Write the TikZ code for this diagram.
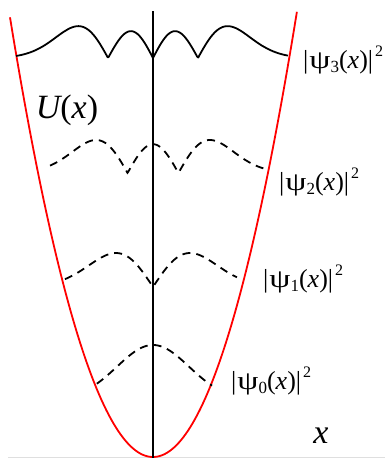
\documentclass[tikz,border=0pt]{standalone}
\usepackage{fontspec}
\setmainfont{Liberation Serif}
\begin{document}
\begin{tikzpicture}[x=1pt,y=-1pt,
  axisline/.style={line width=1.8pt,black},
  potential/.style={line width=1.8pt,red},
  wavesolid/.style={line width=1.8pt,black,line join=round},
  wavedash/.style={line width=1.8pt,black,dash pattern=on 8pt off 6pt},
  lab/.style={inner sep=0pt,anchor=west,font=\fontsize{26}{26}\selectfont},
  biglab/.style={inner sep=0pt,font=\fontsize{34}{34}\selectfont\itshape}]
\useasboundingbox (0,0) rectangle (385,458);
\newcommand{\wlabel}[1]{|\kern1pt\scalebox{1.3}[1]{ψ}\raisebox{-0.3ex}{\fontsize{17}{17}\selectfont #1}(\textit{x})|\kern2pt\raisebox{1.05ex}{\fontsize{16}{16}\selectfont 2}}
% faint base line
\coordinate (bl) at (8,457);
\coordinate (br) at (385,457);
\draw[gray!25,line width=1pt] (bl) -- (br);
% potential
\draw[potential] plot[domain=-1.43:1.44,samples=120] ({153+100*\x},{457-215*\x*\x});
% axis
\coordinate (axtop) at (153,11);
\coordinate (axbot) at (153,458);
\draw[axisline] (axtop) -- (axbot);
% psi3
\draw[wavesolid] plot[domain=-3.73:3.68,samples=301] ({153+36.7*\x},{58-23.5*abs(2*\x*\x*\x-3*\x)*exp(-\x*\x/2)});
% psi2
\draw[wavedash] plot[domain=-2.86:3.17,samples=301] ({153+36*\x},{173-28.8*abs(2*\x*\x-1)*exp(-\x*\x/2)});
% psi1
\draw[wavedash] plot[domain=-2.38:2.27,samples=201] ({153+37*\x},{287-56*abs(\x)*exp(-\x*\x/2)});
% psi0
\draw[wavedash] plot[domain=-1.56:1.64,samples=101] ({153+36*\x},{400-55*exp(-\x*\x/2)});
% labels
\node[lab] (l3) at (303,60) {\wlabel{3}};
\node[lab] (l2) at (279,182) {\wlabel{2}};
\node[lab] (l1) at (263,279) {\wlabel{1}};
\node[lab] (l0) at (231,381) {\wlabel{0}};
\node[biglab] (U) at (67,110) {U\upshape(\itshape x\upshape)};
\node[biglab] (xl) at (321,436) {x};
\end{tikzpicture}
\end{document}
